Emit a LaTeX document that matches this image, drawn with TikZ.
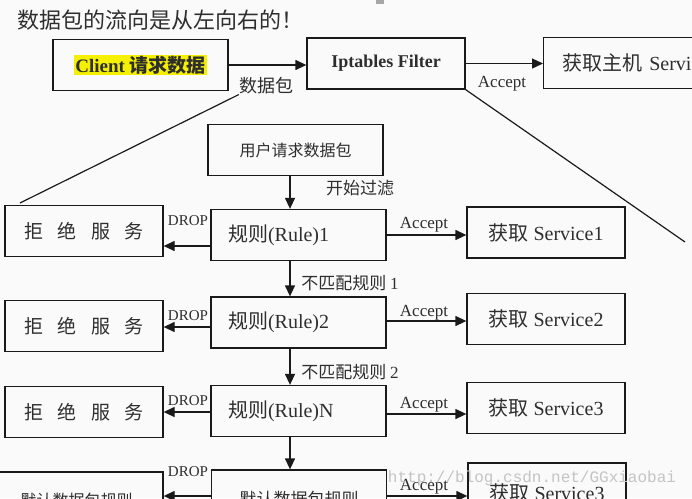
\documentclass[tikz,border=0pt]{standalone}
\usepackage{fontspec}
\setmainfont{Liberation Serif}
\newfontfamily\cjk{Noto Sans CJK SC}
\newfontfamily\wmfont{Liberation Mono}
\usetikzlibrary{arrows.meta,calc}
\definecolor{inkc}{HTML}{1A1A1A}
\definecolor{txtc}{HTML}{2E2E2E}
\definecolor{hlc}{HTML}{F5EF00}
\definecolor{pagec}{HTML}{FAFAFA}
\definecolor{wmc}{HTML}{C4C4C4}
\tikzset{
  ar/.style={-{Triangle[length=11pt,width=10pt]},line width=1.3pt,inkc},
  bx/.style={draw=inkc,line width=1.3pt,minimum height=51pt,inner sep=0pt,text=txtc,font=\fontsize{19}{21}\selectfont},
  rl/.style={bx,text width=141pt,inner xsep=17pt,align=left,font=\fontsize{20}{22}\selectfont},
  lb/.style={inner sep=0pt,text=txtc}
}
\newcommand{\zh}[1]{{\cjk #1}}
\newcommand{\lbl}[1]{\fontsize{#1}{#1}\selectfont}

\begin{document}
\begin{tikzpicture}[x=1pt,y=-1pt]
\path[use as bounding box,clip] (0,0) rectangle (692,498);
\fill[pagec] (0,0) rectangle (692,498);
\fill[gray!70] (376,0) rectangle (384,4);
\node[lb,anchor=west,font=\cjk\lbl{22}] (ttl) at (17,20) {数据包的流向是从左向右的！};
% packet route
\node[bx,minimum width=175pt,font=\bfseries\lbl{19}] (cl) at (140.5,65) {\setlength{\fboxsep}{1pt}\colorbox{hlc}{Client \zh{请求数据}}};
\node[bx,minimum width=158pt,font=\bfseries\lbl{18}] (ip) at (386,63.5) {Iptables Filter};
\node[bx,anchor=west,text width=170pt,inner xsep=19pt,align=left,font=\lbl{20}] (hs) at (543,63) {\zh{获取主机} Service};
\draw[ar] (cl.east) -- (cl.east -| ip.west);
\draw[ar] (ip.east) -- (ip.east -| hs.west);
\node[lb,font=\cjk\lbl{18}] (pk) at (266,86) {数据包};
\node[lb,font=\lbl{17}] (ac0) at (502,84) {Accept};
\coordinate (zl) at (20,203);
\coordinate (zr) at (685,242);
\draw[inkc,line width=1.2pt] (pk.south west) -- (zl);
\draw[inkc,line width=1.2pt] (ip.south east) -- (zr);
% rule chain
\node[bx,minimum width=175pt,font=\cjk\lbl{16}] (us) at (295.5,150) {用户请求数据包};
\foreach \k/\ry/\jy/\sy/\tx/\sv in {1/235/231/232.5/1/1,2/322.5/326/319/2/2,n/411/412/408/N/3}{
  \node[rl] (r\k) at (298.5,\ry) {\zh{规则}(Rule)\tx};
  \node[bx,minimum width=158pt,font=\cjk\lbl{19}] (j\k) at (84,\jy) {拒\hspace{.75em}绝\hspace{.75em}服\hspace{.75em}务};
  \node[bx,minimum width=158pt,font=\lbl{20}] (s\k) at (546,\sy) {\zh{获取} Service\sv};
}
\node[bx,minimum width=175pt,minimum height=58pt,font=\cjk\lbl{17}] (rd) at (299,499) {默认数据包规则};
\node[bx,minimum width=173pt,minimum height=56pt,font=\cjk\lbl{16}] (jd) at (76.5,500) {默认数据包规则};
\node[bx,minimum width=158pt,minimum height=60pt,font=\lbl{20}] (sd) at (547,493) {\zh{获取} Service3};
\draw[ar] (us.south -| 290,0) -- (r1.north -| 290,0);
\draw[ar] (r1.south -| 290,0) -- (r2.north -| 290,0);
\draw[ar] (r2.south -| 290,0) -- (rn.north -| 290,0);
\draw[ar] (rn.south -| 290,0) -- (rd.north -| 290,0);
\draw[ar] (r1.west |- 0,246) -- (j1.east |- 0,246);
\draw[ar] (r2.west |- 0,327) -- (j2.east |- 0,327);
\draw[ar] (rn.west |- 0,412) -- (jn.east |- 0,412);
\draw[ar] (rd.west |- 0,496) -- (jd.east |- 0,496);
\draw[ar] (r1.east |- 0,235) -- (s1.west |- 0,235);
\draw[ar] (r2.east |- 0,321) -- (s2.west |- 0,321);
\draw[ar] (rn.east |- 0,414) -- (sn.west |- 0,414);
\draw[ar] (rd.east |- 0,496) -- (sd.west |- 0,496);
\node[lb,font=\cjk\lbl{17}] (gf) at (360,188) {开始过滤};
\node[lb,font=\cjk\lbl{17}] (nm1) at (350,283) {不匹配规则 {\rmfamily 1}};
\node[lb,font=\cjk\lbl{17}] (nm2) at (350,372) {不匹配规则 {\rmfamily 2}};
\foreach \y [count=\i] in {221,316,401,472}{
  \node[lb,font=\lbl{15}] (dp\i) at (188,\y) {DROP};}
\foreach \y [count=\i] in {225,313,405,487}{
  \node[lb,font=\lbl{17}] (ac\i) at (424,\y) {Accept};}
\node[lb,text=wmc,font=\wmfont\lbl{16}] (wm) at (532,478) {http://blog.csdn.net/GGxiaobai};
\end{tikzpicture}
\end{document}
